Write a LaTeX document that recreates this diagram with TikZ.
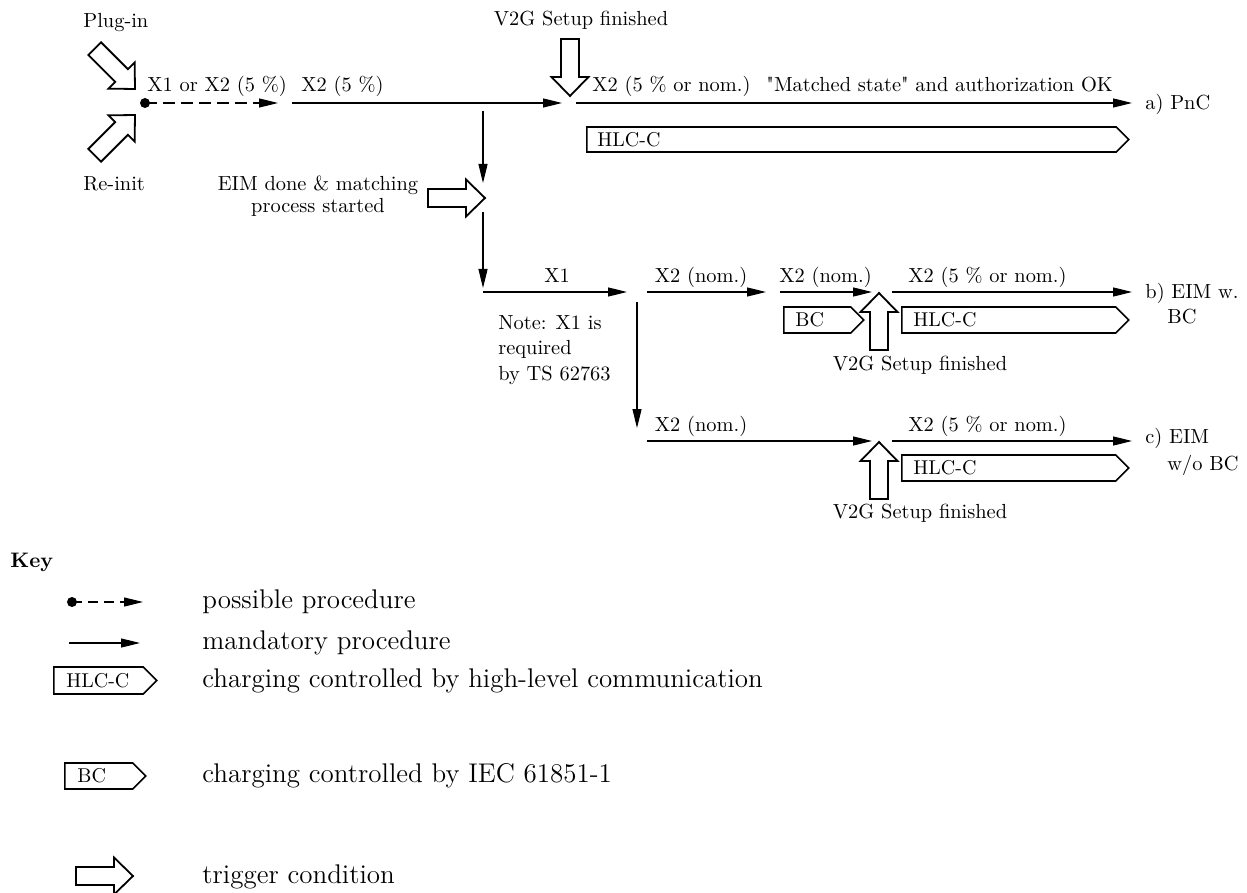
\documentclass[tikz,border=0pt]{standalone}
\usepackage{fontspec}
\usepackage{tikz}
\usetikzlibrary{arrows.meta,shapes.symbols}

\tikzset{
    flow/.style={-{Triangle[length=9.5pt,width=4.5pt]}, line width=0.6pt},
    maybe/.style={flow, dash pattern=on 6pt off 3pt},
    chg/.style={draw, line width=0.8pt, signal, signal to=east, signal pointer angle=90,
        inner sep=0pt, anchor=west},
    tag/.style={anchor=west, inner sep=0pt},
    lbl/.style={anchor=base west, inner sep=0pt, font=\fontsize{10.2pt}{12pt}\selectfont},
    keytext/.style={lbl, font=\fontsize{13.5pt}{16pt}\selectfont},
    pics/trig/.style={code={
        \draw[line width=0.9pt, line join=miter]
            (0,0) -- (-19,-18.5) -- (-19,-9) -- (-57,-9) -- (-57,9) -- (-19,9) -- (-19,18.5) -- cycle;
    }}
}

\begin{document}
\begin{tikzpicture}[x=0.5pt, y=-0.5pt]
    \useasboundingbox (0,0) rectangle (1247,893);

    % row a
    \coordinate (start) at (145,103);
    \coordinate (a1) at (278,103);
    \coordinate (a2) at (292,103);
    \coordinate (a3) at (562,103);
    \coordinate (a4) at (576,103);
    \coordinate (a5) at (1132,103);
    \fill (start) circle (2.5pt);
    \draw[maybe] (start) -- (a1);
    \draw[flow] (a2) -- (a3);
    \draw[flow] (a4) -- (a5);
    \pic[rotate=-45] at (135,89) {trig};
    \pic[rotate=45] at (135,115) {trig};
    \pic[rotate=-90] at (570,96) {trig};
    \node[lbl] (plugin) at (83,28) {Plug-in};
    \node[lbl] (reinit) at (83,191) {Re-init};
    \node[lbl] (la1) at (147,92) {X1 or X2 (5 \%)};
    \node[lbl] (la2) at (301,92) {X2 (5 \%)};
    \node[lbl, anchor=base] (v2ga) at (581,26) {V2G Setup finished};
    \node[lbl] (la3) at (592,92)
        {X2 (5 \% or nom.) \ \textquotedbl Matched state\textquotedbl{} and authorization OK};
    \node[lbl] (pnc) at (1145,110) {a) PnC};
    \node[chg, minimum width=271pt, minimum height=12.5pt] (hlca) at (586,139.5) {};
    \node[tag] at ([xshift=5.5pt]hlca.west) {HLC-C};

    % branch to EIM
    \coordinate (v1) at (483,111);
    \coordinate (v2) at (483,183);
    \coordinate (v3) at (483,212);
    \coordinate (v4) at (483,288);
    \draw[flow] (v1) -- (v2);
    \draw[flow] (v3) -- (v4);
    \pic at (485,198) {trig};
    \node[lbl, anchor=base, align=center, font=\fontsize{10.2pt}{11pt}\selectfont] (eim)
        at (318,213) {EIM done \& matching\\process started};

    % row b
    \coordinate (b0) at (483,292);
    \coordinate (b1) at (627,292);
    \coordinate (b2) at (647,292);
    \coordinate (b3) at (766,292);
    \coordinate (b4) at (780,292);
    \coordinate (b5) at (872,292);
    \coordinate (b6) at (892,292);
    \coordinate (b7) at (1132,292);
    \draw[flow] (b0) -- (b1);
    \draw[flow] (b2) -- (b3);
    \draw[flow] (b4) -- (b5);
    \draw[flow] (b6) -- (b7);
    \pic[rotate=90] at (879,293) {trig};
    \node[lbl, anchor=base] (lb1) at (557,283) {X1};
    \node[lbl, anchor=base] (lb2) at (701,283) {X2 (nom.)};
    \node[lbl] (lb3) at (779,283) {X2 (nom.)};
    \node[lbl] (lb4) at (908,283) {X2 (5 \% or nom.)};
    \node[lbl, anchor=base] (v2gb) at (920,370) {V2G Setup finished};
    \node[lbl, align=left, font=\fontsize{10.2pt}{12.75pt}\selectfont] (note)
        at (498,380) {Note: X1 is\\required\\by TS 62763};
    \node[lbl, align=left, font=\fontsize{10.2pt}{12.5pt}\selectfont] (eimbc)
        at (1145,323) {b) EIM w.\\\hspace*{11pt}BC};
    \node[chg, minimum width=40pt, minimum height=13pt] (bcb) at (783,320) {};
    \node[tag] at ([xshift=6pt]bcb.west) {BC};
    \node[chg, minimum width=113.5pt, minimum height=13pt] (hlcb) at (901,320) {};
    \node[tag] at ([xshift=6pt]hlcb.west) {HLC-C};

    % row c
    \coordinate (c0) at (637,302);
    \coordinate (c1) at (637,428);
    \coordinate (c2) at (647,441);
    \coordinate (c3) at (872,441);
    \coordinate (c4) at (892,441);
    \coordinate (c5) at (1132,441);
    \draw[flow] (c0) -- (c1);
    \draw[flow] (c2) -- (c3);
    \draw[flow] (c4) -- (c5);
    \pic[rotate=90] at (879,442) {trig};
    \node[lbl, anchor=base] (lc1) at (701,431) {X2 (nom.)};
    \node[lbl] (lc2) at (908,431) {X2 (5 \% or nom.)};
    \node[lbl, anchor=base] (v2gc) at (920,518) {V2G Setup finished};
    \node[lbl, align=left, font=\fontsize{10.2pt}{13.5pt}\selectfont] (eimwo)
        at (1145,470) {c) EIM\\\hspace*{11pt}w/o BC};
    \node[chg, minimum width=113.5pt, minimum height=13pt] (hlcc) at (901,468) {};
    \node[tag] at ([xshift=6pt]hlcc.west) {HLC-C};

    % key
    \node[lbl, font=\fontsize{10.5pt}{12pt}\selectfont\bfseries] (key) at (10,567) {Key};
    \coordinate (k1) at (72,602);
    \coordinate (k2) at (143,602);
    \coordinate (k3) at (69,643);
    \coordinate (k4) at (140,643);
    \fill (k1) circle (2.5pt);
    \draw[maybe, dash pattern=on 5pt off 3pt] (k1) -- (k2);
    \draw[flow] (k3) -- (k4);
    \node[chg, minimum width=51.5pt, minimum height=13.5pt] (hlck) at (53,680.5) {};
    \node[tag] at ([xshift=6.5pt]hlck.west) {HLC-C};
    \node[chg, minimum width=40.5pt, minimum height=13pt] (bck) at (64,776) {};
    \node[tag] at ([xshift=6.5pt]bck.west) {BC};
    \pic at (133,876) {trig};
    \node[keytext] (kt1) at (202,608) {possible procedure};
    \node[keytext] (kt2) at (202,649) {mandatory procedure};
    \node[keytext] (kt3) at (202,687) {charging controlled by high-level communication};
    \node[keytext] (kt4) at (202,782) {charging controlled by IEC 61851-1};
    \node[keytext] (kt5) at (202,883) {trigger condition};
\end{tikzpicture}
\end{document}
